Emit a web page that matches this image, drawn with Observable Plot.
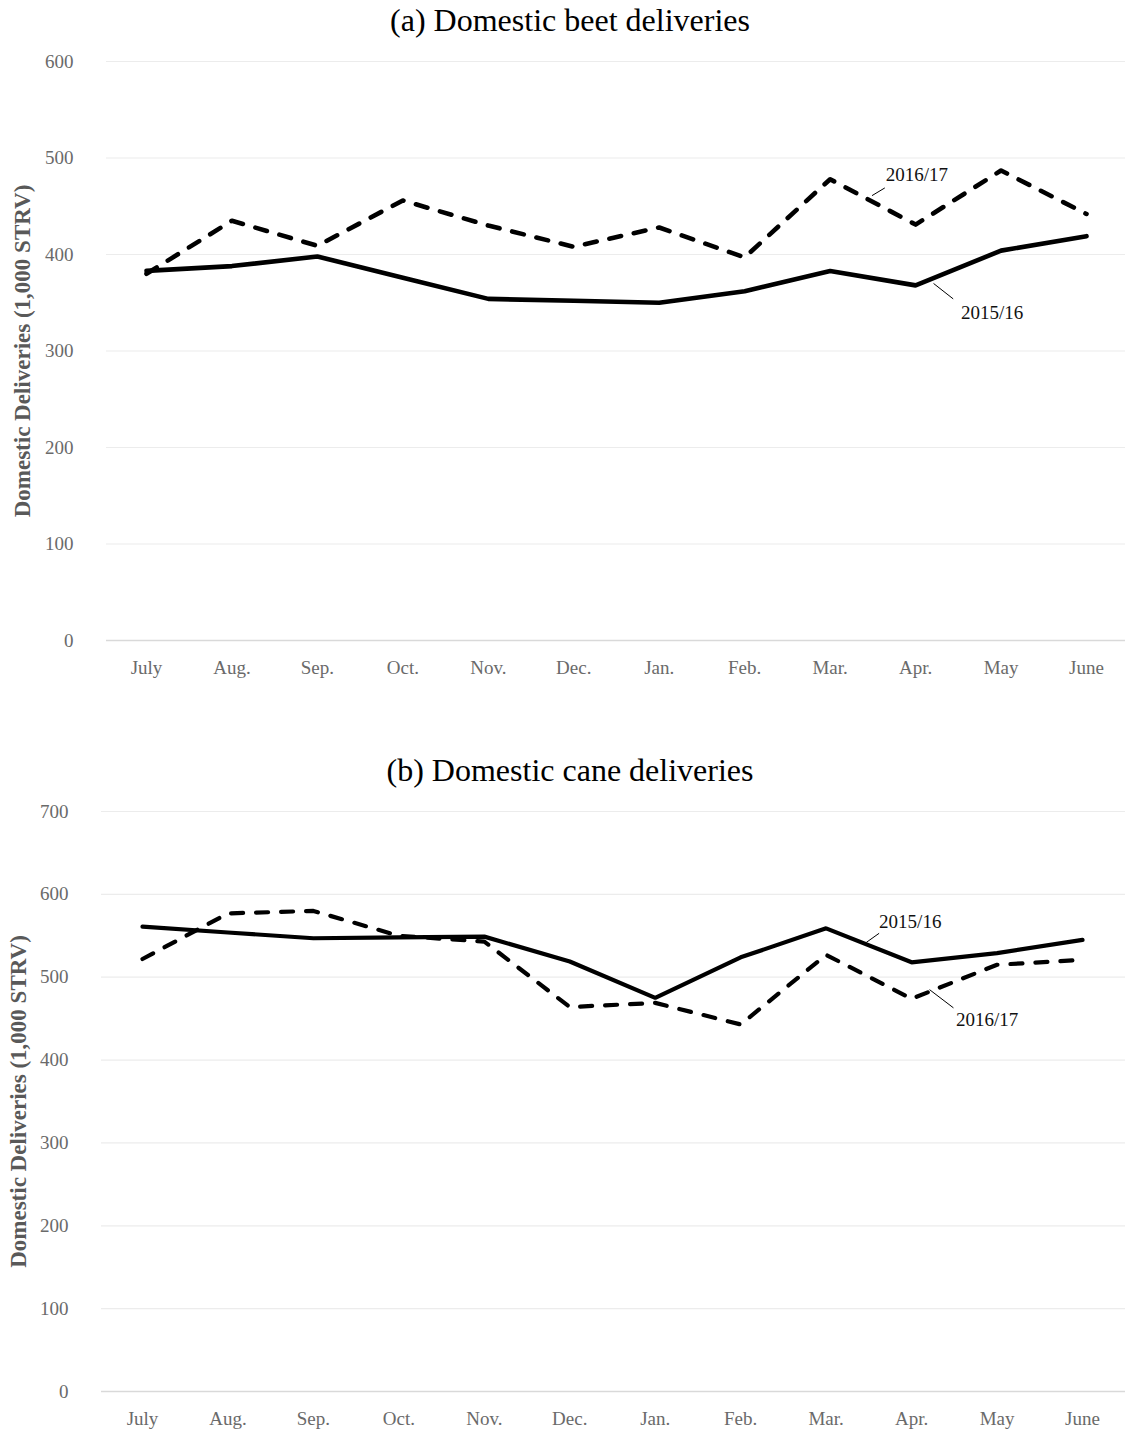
<!DOCTYPE html>
<html>
<head>
<meta charset="utf-8">
<script src="https://cdn.jsdelivr.net/npm/d3@7"></script>
<script src="https://cdn.jsdelivr.net/npm/@observablehq/plot@0.6"></script>
<style>
  html, body { margin: 0; padding: 0; background: #fff; }
  #wrap { position: relative; width: 1125px; height: 1437px; overflow: hidden; }
  .title { position: absolute; left: 0; width: 1140px; text-align: center;
           font-family: "Liberation Serif", serif; font-size: 32px; color: #000; }
  .panel { position: absolute; left: 0; }
</style>
</head>
<body>
<div id="wrap">
  <div class="title" id="t1" style="top:2px">(a) Domestic beet deliveries</div>
  <div class="panel" id="p1" style="top:40px"></div>
  <div class="title" id="t2" style="top:752px">(b) Domestic cane deliveries</div>
  <div class="panel" id="p2" style="top:790px"></div>
</div>
<script>
const months = ["July","Aug.","Sep.","Oct.","Nov.","Dec.","Jan.","Feb.","Mar.","Apr.","May","June"];

const beet2015 = [383, 388, 398, 376, 354, 352, 350, 362, 383, 368, 404, 419];
const beet2016 = [380, 435, 409, 456, 430, 408, 428, 397, 478, 431, 487, 442];
const cane2015 = [561, 554, 547, 548, 549, 519, 475, 524, 559, 518, 529, 545];
const cane2016 = [522, 577, 580, 550, 543, 464, 469, 443, 527, 474, 515, 521];

const beetTicks = [0, 100, 200, 300, 400, 500, 600];
const caneTicks = [0, 100, 200, 300, 400, 500, 600, 700];

// annotation labels (x = month index, y = value) and their leader lines
const beetLabels = [
  {text: "2016/17", x: 8.65, y: 482, lx1: 8.64, ly1: 469, lx2: 8.49, ly2: 461},
  {text: "2015/16", x: 9.53, y: 339, lx1: 9.21, ly1: 370, lx2: 9.44, ly2: 354}
];
const caneLabels = [
  {text: "2015/16", x: 8.62, y: 567, lx1: 8.62, ly1: 553, lx2: 8.47, ly2: 542},
  {text: "2016/17", x: 9.52, y: 448, lx1: 9.21, ly1: 485, lx2: 9.49, ly2: 463}
];

const serif = "Liberation Serif, serif";

function panel({s1, s2, ticks, ymax, xRange, height, marginTop, marginBottom, marginLeft, labels, yLabelDx, strokeW}) {
  const d1 = s1.map((v, i) => ({i, v}));
  const d2 = s2.map((v, i) => ({i, v}));
  return Plot.plot({
    width: 1125,
    height,
    marginTop,
    marginBottom,
    marginLeft,
    marginRight: 0,
    style: {fontFamily: serif, background: "white", overflow: "visible"},
    x: {type: "linear", domain: [0, 11], range: xRange},
    y: {domain: [0, ymax]},
    marks: [
      Plot.ruleY(ticks.filter(t => t > 0), {stroke: "#ececec", strokeWidth: 1.2}),
      Plot.ruleY([0], {stroke: "#d9d9d9", strokeWidth: 1.6}),
      Plot.axisY({ticks, tickSize: 0, tickPadding: 33, fontSize: 19, fill: "#6a6a6a", label: null}),
      Plot.axisX({ticks: d3.range(12), tickFormat: i => months[i], tickSize: 0, tickPadding: 20, fontSize: 19, fill: "#6a6a6a", label: null}),
      Plot.text(["Domestic Deliveries (1,000 STRV)"], {frameAnchor: "left", textAnchor: "middle", rotate: -90, dx: yLabelDx, fontSize: 23, fontWeight: "bold", fill: "#595959", text: d => d}),
      Plot.line(d1, {x: "i", y: "v", stroke: "black", strokeWidth: strokeW, strokeLinejoin: "miter", strokeLinecap: "round"}),
      Plot.line(d2, {x: "i", y: "v", stroke: "black", strokeWidth: strokeW, strokeDasharray: "12,13", strokeLinecap: "round"}),
      Plot.link(labels, {x1: "lx1", y1: "ly1", x2: "lx2", y2: "ly2", stroke: "black", strokeWidth: 1}),
      Plot.text(labels, {x: "x", y: "y", text: "text", textAnchor: "start", fontSize: 19, fill: "#111"})
    ]
  });
}

document.getElementById("p1").append(panel({
  s1: beet2015, s2: beet2016, ticks: beetTicks, ymax: 600,
  xRange: [146, 1086], height: 650, marginTop: 21, marginBottom: 50, marginLeft: 106,
  labels: beetLabels, yLabelDx: -84, strokeW: 4.6
}));

document.getElementById("p2").append(panel({
  s1: cane2015, s2: cane2016, ticks: caneTicks, ymax: 700,
  xRange: [142, 1082], height: 647, marginTop: 21, marginBottom: 46, marginLeft: 101,
  labels: caneLabels, yLabelDx: -83, strokeW: 4.2
}));
</script>
</body>
</html>
